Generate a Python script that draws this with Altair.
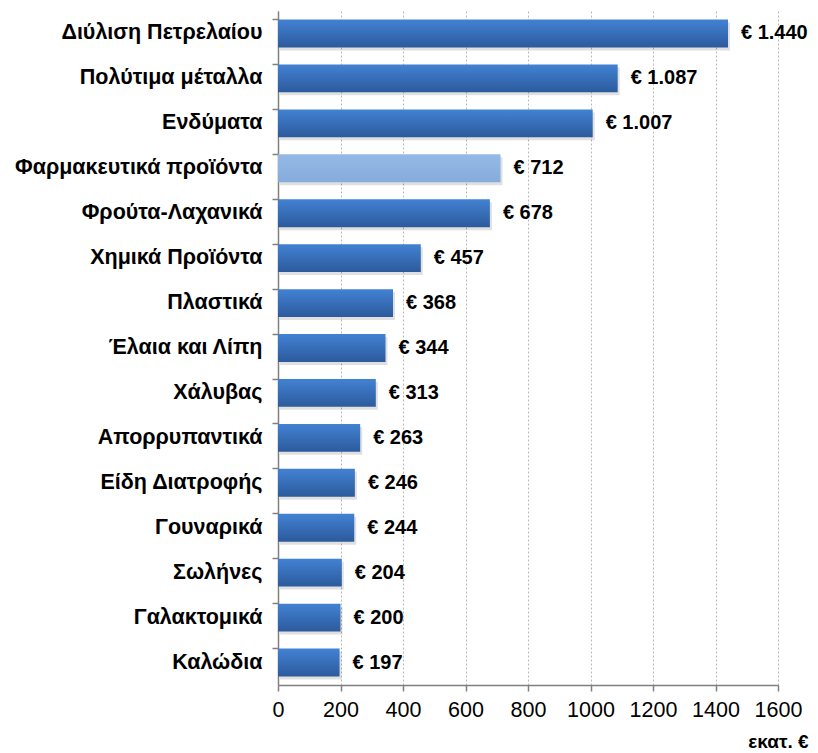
import altair as alt
import pandas as pd

categories = [
    "Διύλιση Πετρελαίου", "Πολύτιμα μέταλλα", "Ενδύματα", "Φαρμακευτικά προϊόντα",
    "Φρούτα-Λαχανικά", "Χημικά Προϊόντα", "Πλαστικά", "Έλαια και Λίπη", "Χάλυβας",
    "Απορρυπαντικά", "Είδη Διατροφής", "Γουναρικά", "Σωλήνες", "Γαλακτομικά", "Καλώδια",
]
values = [1440, 1087, 1007, 712, 678, 457, 368, 344, 313, 263, 246, 244, 204, 200, 197]
highlight = [False, False, False, True, False, False, False, False, False, False, False, False, False, False, False]
x_ticks = [0, 200, 400, 600, 800, 1000, 1200, 1400, 1600]

df = pd.DataFrame({
    "cat": categories,
    "val": values,
    "hl": highlight,
    "label": ["€ " + f"{v:,}".replace(",", ".") for v in values],
})

FONT = "Liberation Sans"

y_enc = alt.Y(
    "cat:N", sort=categories, title=None,
    scale=alt.Scale(paddingInner=0.38, paddingOuter=0.19),
    axis=alt.Axis(
        bandPosition=0, domainColor="#808080", domainWidth=1.5, tickColor="#808080",
        tickWidth=1.5, tickSize=6, labelFont=FONT, labelFontSize=21.5, labelFontWeight="bold",
        labelColor="#000000", labelPadding=10, labelLimit=300, grid=False,
    ),
)
x_enc = alt.X(
    "val:Q", title="εκατ. €",
    scale=alt.Scale(domain=[0, 1600], nice=False),
    axis=alt.Axis(
        values=x_ticks, format="d", labelOverlap=False, labelFlush=False, domainColor="#808080",
        domainWidth=1.5, tickColor="#808080", tickWidth=1.5, tickSize=6, labelFont=FONT,
        labelFontSize=21.5, labelColor="#000000", labelPadding=8, gridColor="#b8b8b8",
        gridDash=[2, 2], gridWidth=1,
        titleFont=FONT, titleFontSize=19, titleFontWeight="bold", titleColor="#000000",
        titleAlign="right", titleAnchor="end", titleX=530, titleY=62, titleBaseline="alphabetic",
    ),
)

base = alt.Chart(df)

shadow = base.mark_bar(color="#000000", opacity=0.12, yOffset=3, xOffset=2, x2Offset=2).encode(
    y=y_enc, x=x_enc
)

blue = alt.Gradient(
    gradient="linear", x1=0, y1=0, x2=0, y2=1,
    stops=[alt.GradientStop(color="#4282d3", offset=0), alt.GradientStop(color="#2c5a9c", offset=1)],
)
light = alt.Gradient(
    gradient="linear", x1=0, y1=0, x2=0, y2=1,
    stops=[alt.GradientStop(color="#94b9e6", offset=0), alt.GradientStop(color="#86acdc", offset=1)],
)

bars = base.transform_filter("!datum.hl").mark_bar(color=blue).encode(y=y_enc, x=x_enc)
bars_hl = base.transform_filter("datum.hl").mark_bar(color=light).encode(y=y_enc, x=x_enc)

labels = base.mark_text(
    align="left", baseline="middle", dx=13, font=FONT, fontSize=20, fontWeight="bold", color="#000000"
).encode(y=alt.Y("cat:N", sort=categories), x="val:Q", text="label:N")

chart = alt.layer(shadow, bars, bars_hl, labels).properties(
    width=500, height=674,
    autosize=alt.AutoSizeParams(type="none"),
    padding={"left": 270, "top": 3, "right": 32, "bottom": 70},
).configure_view(stroke=None)

chart.save("out.html", embed_options={"renderer": "svg", "actions": False})
